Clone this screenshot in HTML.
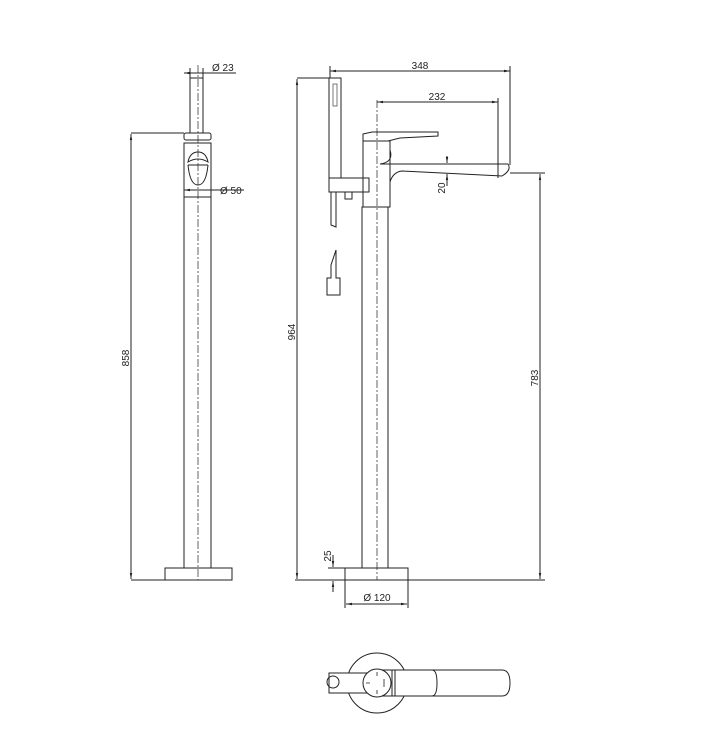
<!DOCTYPE html>
<html><head><style>body{margin:0;background:#fff}svg{display:block}text{font-family:"Liberation Sans",sans-serif;font-size:10px;fill:#222}</style></head><body>
<svg width="708" height="750" viewBox="0 0 708 750" xmlns="http://www.w3.org/2000/svg">
<defs><marker id="a" viewBox="0 0 10 10" refX="10" refY="5" markerWidth="6" markerHeight="6" orient="auto-start-reverse"><path d="M0,3L10,5L0,7z" fill="#222"/></marker></defs>
<g fill="none" stroke="#222" stroke-width="1">
<!-- left view -->
<line x1="198" y1="65" x2="198" y2="580" stroke-dasharray="8,2,2,2" stroke-width="0.7"/>
<rect x="190" y="78" width="13" height="55"/>
<rect x="184" y="133" width="27" height="7" rx="2"/>
<rect x="184" y="143" width="27" height="425"/>
<line x1="184" y1="197" x2="211" y2="197"/>
<path d="M188,162 Q190,152 198,152 Q206,152 208,162 Q198,156 188,162Z M188,165 L208,165 M188,165 Q190,185 198,185 Q206,185 208,165"/>
<rect x="165" y="568" width="67" height="12"/>
<line x1="184" y1="73" x2="236" y2="73" marker-start="url(#a)"/>
<line x1="190" y1="68" x2="190" y2="78"/><line x1="203" y1="68" x2="203" y2="78"/>
<line x1="184" y1="190" x2="244" y2="190" marker-start="url(#a)"/>
<line x1="131" y1="133" x2="184" y2="133"/><line x1="131" y1="580" x2="165" y2="580"/>
<line x1="131" y1="134" x2="131" y2="579" marker-start="url(#a)" marker-end="url(#a)"/>
<!-- right view -->
<line x1="377" y1="100" x2="377" y2="580" stroke-dasharray="8,2,2,2" stroke-width="0.7"/>
<rect x="329" y="78" width="12" height="100"/>
<rect x="333" y="84" width="4" height="22" stroke-width="0.6"/>
<rect x="329" y="178" width="40" height="14"/>
<rect x="345" y="192" width="7" height="7"/>
<path d="M331,192 L331,225 L336,227 L336,192"/>
<path d="M331,265 L331,278 L327,278 L327,295 L340,295 L340,278 L336,278 L336,250Z"/>
<path d="M363,134 L372,132 L438,132 L438,136 L400,138 L388,141 L363,141Z"/>
<rect x="363" y="141" width="27" height="66"/>
<path d="M390,150 Q394,162 380,164 L508,164 Q512,170 502,176 L402,171 Q393,172 390,182"/>
<rect x="362" y="207" width="26" height="361"/>
<rect x="345" y="568" width="63" height="12"/>
<line x1="295" y1="580" x2="545" y2="580"/>
<line x1="330" y1="71" x2="510" y2="71" marker-start="url(#a)" marker-end="url(#a)"/>
<line x1="330" y1="66" x2="330" y2="78"/><line x1="510" y1="66" x2="510" y2="165"/>
<line x1="377" y1="102" x2="498" y2="102" marker-start="url(#a)" marker-end="url(#a)"/>
<line x1="498" y1="98" x2="498" y2="178"/>
<line x1="447" y1="156" x2="447" y2="163" marker-end="url(#a)"/>
<line x1="447" y1="186" x2="447" y2="174" marker-end="url(#a)"/>
<line x1="297" y1="78" x2="329" y2="78"/>
<line x1="297" y1="79" x2="297" y2="579" marker-start="url(#a)" marker-end="url(#a)"/>
<line x1="510" y1="173" x2="545" y2="173"/>
<line x1="540" y1="174" x2="540" y2="579" marker-start="url(#a)" marker-end="url(#a)"/>
<line x1="333" y1="555" x2="333" y2="567" marker-end="url(#a)"/>
<line x1="333" y1="592" x2="333" y2="581" marker-end="url(#a)"/>
<line x1="328" y1="568" x2="345" y2="568"/>
<line x1="345" y1="580" x2="345" y2="608"/><line x1="408" y1="580" x2="408" y2="608"/>
<line x1="346" y1="604" x2="407" y2="604" marker-start="url(#a)" marker-end="url(#a)"/>
<!-- top view -->
<circle cx="377" cy="683" r="30"/>
<rect x="329" y="673" width="50" height="20" fill="#fff"/>
<circle cx="333" cy="682" r="6"/>
<path d="M377,670 L502,670 Q510,670 510,683 Q510,696 502,696 L377,696" fill="#fff"/>
<path d="M392,670 L432,670 Q437,670 437,683 Q437,696 432,696 L392,696"/>
<circle cx="377" cy="683" r="14" fill="#fff"/>
<line x1="392" y1="670" x2="392" y2="696"/><line x1="395" y1="670" x2="395" y2="696"/>
<path d="M377,672 v4 M377,690 v4 M366,683 h4 M384,679 v8" stroke-width="0.8"/>
</g>
<text x="212" y="71">Ø 23</text>
<text x="220" y="194">Ø 50</text>
<text transform="translate(129,358) rotate(-90)" text-anchor="middle">858</text>
<text x="420" y="69" text-anchor="middle">348</text>
<text x="437" y="100" text-anchor="middle">232</text>
<text transform="translate(445,188) rotate(-90)" text-anchor="middle">20</text>
<text transform="translate(295,332) rotate(-90)" text-anchor="middle">964</text>
<text transform="translate(538,378) rotate(-90)" text-anchor="middle">783</text>
<text transform="translate(331,556) rotate(-90)" text-anchor="middle">25</text>
<text x="377" y="601" text-anchor="middle">Ø 120</text>
</svg>
</body></html>
